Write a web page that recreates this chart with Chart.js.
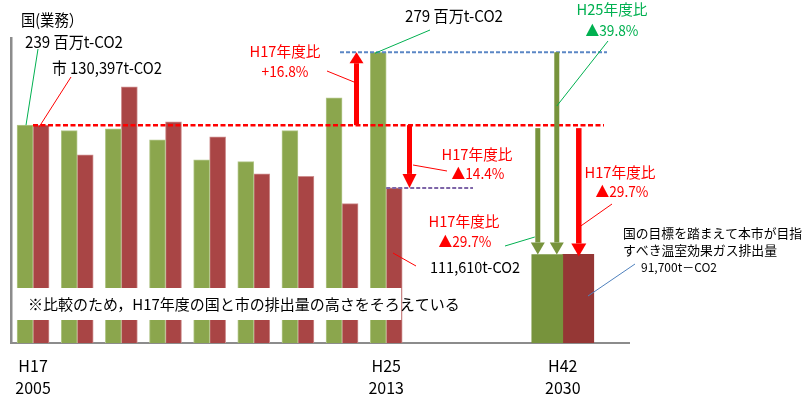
<!DOCTYPE html>
<html>
<head>
<meta charset="utf-8">
<script src="https://cdn.jsdelivr.net/npm/chart.js@4/dist/chart.umd.min.js"></script>
<style>
  html, body { margin: 0; padding: 0; background: #fff; }
  #wrap { width: 802px; height: 395px; }
</style>
</head>
<body>
<div id="wrap"><canvas id="chart" width="802" height="395"></canvas></div>
<script>
// 業務部門のCO2排出量（H17年度を揃えて表示）
const fiscalYears = ['H17', 'H18', 'H19', 'H20', 'H21', 'H22', 'H23', 'H24', 'H25'];
const calendarYears = ['2005', '2006', '2007', '2008', '2009', '2010', '2011', '2012', '2013'];
const nationalMt = [239, 236, 237, 231, 220, 219, 236, 254, 279];      // 国 百万t-CO2
const cityT = [130397, 121500, 141900, 131400, 126900, 115800, 115100, 106900, 111610]; // 市 t-CO2
const gapCategories = [' ', '  ', '   '];
const targetFiscal = 'H42';
const targetCalendar = '2030';
const nationalTargetMt = 168;   // H25比 ▲39.8%
const cityTargetT = 91700;      // H17比 ▲29.7%
const tickLabels = [['H17', '2005'], ['H25', '2013'], ['H42', '2030']];

const FONT = '"Noto Sans CJK JP", "Noto Sans", sans-serif';
const GREEN = '#8ba64d';
const RED = '#a94545';
const GREEN_DARK = '#77933c';
const RED_DARK = '#953735';

const categories = fiscalYears.concat(gapCategories, [targetFiscal, '    ']);
const targetIdx = fiscalYears.length + gapCategories.length;

// index: H17年度 = 100
const natIndex = categories.map((_, i) => i < fiscalYears.length ? nationalMt[i] / nationalMt[0] * 100 : null);
const cityIndex = categories.map((_, i) => i < fiscalYears.length ? cityT[i] / cityT[0] * 100 : null);
const natTarget = categories.map((_, i) => i === targetIdx ? nationalTargetMt / nationalMt[0] * 100 : null);
const cityTarget = categories.map((_, i) => i === targetIdx ? cityTargetT / cityT[0] * 100 : null);

function line(ctx, x1, y1, x2, y2, color, w, dash) {
  ctx.save();
  ctx.strokeStyle = color;
  ctx.lineWidth = w;
  ctx.setLineDash(dash || []);
  ctx.beginPath();
  ctx.moveTo(x1, y1);
  ctx.lineTo(x2, y2);
  ctx.stroke();
  ctx.restore();
}

function arrow(ctx, x, yFrom, yTip, shaft, head, headLen, color) {
  const dir = yTip > yFrom ? 1 : -1;
  const yBase = yTip - dir * headLen;
  ctx.save();
  ctx.fillStyle = color;
  ctx.fillRect(x - shaft / 2, Math.min(yFrom, yBase), shaft, Math.abs(yBase - yFrom));
  ctx.beginPath();
  ctx.moveTo(x - head / 2, yBase);
  ctx.lineTo(x + head / 2, yBase);
  ctx.lineTo(x, yTip);
  ctx.closePath();
  ctx.fill();
  ctx.restore();
}

function text(ctx, str, x, y, opt) {
  opt = opt || {};
  ctx.save();
  ctx.font = (opt.size || 15) + 'px ' + FONT;
  ctx.fillStyle = opt.color || '#000';
  ctx.textAlign = opt.align || 'left';
  ctx.textBaseline = 'middle';
  if (opt.maxW) ctx.fillText(str, x, y, opt.maxW);
  else ctx.fillText(str, x, y);
  ctx.restore();
}

const overlay = {
  id: 'overlay',
  afterDatasetsDraw(chart) {
    const ctx = chart.ctx;
    const xs = chart.scales.x;
    const ys = chart.scales.y;
    const yBase = ys.getPixelForValue(100);
    const yTop = ys.getPixelForValue(natIndex[8]);
    const yCity = ys.getPixelForValue(cityIndex[8]);
    const yTarget = ys.getPixelForValue(cityTarget[targetIdx]);
    const x25 = xs.getPixelForValue(8);
    const x42 = xs.getPixelForValue(targetIdx);

    // 軸の省略帯
    ctx.fillStyle = '#fff';
    ctx.fillRect(13, 288, x25 + 15 - 13, 32);
    text(ctx, '※比較のため，H17年度の国と市の排出量の高さをそろえている', 28, 304, { size: 15, maxW: 436 });

    // 基準線
    line(ctx, 33, yBase, 604, yBase, '#ff0000', 2.5, [5, 2.5]);
    line(ctx, 340, yTop, 607, yTop, '#5b87c5', 2, [4, 2]);
    line(ctx, x25, yCity, 473, yCity, '#7e65a8', 2, [4, 2]);

    // 矢印
    arrow(ctx, 356.5, yBase, yTop, 5, 14, 11, '#ff0000');
    arrow(ctx, 409.5, yBase, yCity, 5, 14, 14, '#ff0000');
    arrow(ctx, x42 - 25, yBase + 3, yTarget, 5, 14, 12, GREEN_DARK);
    arrow(ctx, x42 - 6, yTop, yTarget, 5, 14, 12, GREEN_DARK);
    arrow(ctx, x42 + 16, yBase + 3, yTarget + 2, 5.5, 15, 13, '#ff0000');

    // 引出線
    line(ctx, 38, 49, 26, yBase, '#00b050', 1);
    line(ctx, 71, 77, 39, yBase + 2, '#ff0000', 1);
    line(ctx, 327, 71, 354, 82, '#ff0000', 1);
    line(ctx, 430, 30, 375, yTop + 1, '#00b050', 1);
    line(ctx, 413, 165, 447, 171, '#ff0000', 1);
    line(ctx, 608, 41, x42 - 6, 106, '#00b050', 1);
    line(ctx, 612, 204, x42 + 18, 226, '#ff0000', 1);
    line(ctx, 505, 246, x42 - 28, 237, '#00b050', 1);
    line(ctx, 393, 253, 416, 266, '#ff0000', 1);
    line(ctx, 635, 264, 588, 296, '#4f81bd', 1);

    // 注記
    text(ctx, '国(業務）', 21, 20, { size: 16, maxW: 62 });
    text(ctx, '239 百万t-CO2', 25, 42, { size: 16, maxW: 98 });
    text(ctx, '市 130,397t-CO2', 52, 68, { size: 16, maxW: 110 });
    text(ctx, '279 百万t-CO2', 405, 16, { size: 16, maxW: 98 });
    text(ctx, '111,610t-CO2', 430, 267, { size: 15, maxW: 90 });

    text(ctx, 'H17年度比', 285, 51, { size: 15, color: '#ff0000', align: 'center', maxW: 71 });
    text(ctx, '+16.8%', 285, 71, { size: 15, color: '#ff0000', align: 'center', maxW: 47 });
    text(ctx, 'H25年度比', 612, 9, { size: 15, color: '#00b050', align: 'center', maxW: 71 });
    text(ctx, '▲39.8%', 612, 30, { size: 15, color: '#00b050', align: 'center', maxW: 53 });
    text(ctx, 'H17年度比', 477, 154, { size: 15, color: '#ff0000', align: 'center', maxW: 71 });
    text(ctx, '▲14.4%', 478, 173, { size: 15, color: '#ff0000', align: 'center', maxW: 53 });
    text(ctx, 'H17年度比', 620, 172, { size: 15, color: '#ff0000', align: 'center', maxW: 71 });
    text(ctx, '▲29.7%', 622, 191, { size: 15, color: '#ff0000', align: 'center', maxW: 53 });
    text(ctx, 'H17年度比', 464, 221, { size: 15, color: '#ff0000', align: 'center', maxW: 71 });
    text(ctx, '▲29.7%', 465, 241, { size: 15, color: '#ff0000', align: 'center', maxW: 53 });

    text(ctx, '国の目標を踏まえて本市が目指', 623, 233, { size: 13, maxW: 179 });
    text(ctx, 'すべき温室効果ガス排出量', 623, 250, { size: 13, maxW: 154 });
    text(ctx, '91,700t－CO2', 641, 267, { size: 12, maxW: 76 });

    // 横軸ラベル
    const labelIdx = [0, 8, targetIdx];
    labelIdx.forEach((idx, k) => {
      const x = xs.getPixelForValue(idx);
      text(ctx, tickLabels[k][0], x, 366, { size: 16, align: 'center' });
      text(ctx, tickLabels[k][1], x, 388, { size: 16, align: 'center' });
    });
  }
};

new Chart(document.getElementById('chart'), {
  type: 'bar',
  data: {
    labels: categories,
    datasets: [
      { label: '国', data: natIndex, stack: 'n', barThickness: 16, backgroundColor: GREEN,
        borderColor: '#b3c78a', borderWidth: 1 },
      { label: '市', data: cityIndex, stack: 'c', barThickness: 16, backgroundColor: RED,
        borderColor: '#cf8f8f', borderWidth: 1 },
      { label: '国 目標', data: natTarget, stack: 'n', barThickness: 31, backgroundColor: GREEN_DARK },
      { label: '市 目標', data: cityTarget, stack: 'c', barThickness: 31, backgroundColor: RED_DARK }
    ]
  },
  options: {
    responsive: false,
    animation: false,
    layout: { padding: { left: 11, right: 173, top: 38, bottom: 52 } },
    plugins: {
      legend: { display: false },
      tooltip: { enabled: false }
    },
    scales: {
      x: {
        grid: { display: false, drawTicks: false },
        border: { display: true, color: '#8c8c8c', width: 2 },
        ticks: { display: false }
      },
      y: {
        stacked: false,
        min: 50,
        max: 120,
        grid: { display: false, drawTicks: false },
        border: { display: true, color: '#8c8c8c', width: 2.5 },
        ticks: { display: false }
      }
    }
  },
  plugins: [overlay]
});
</script>
</body>
</html>
